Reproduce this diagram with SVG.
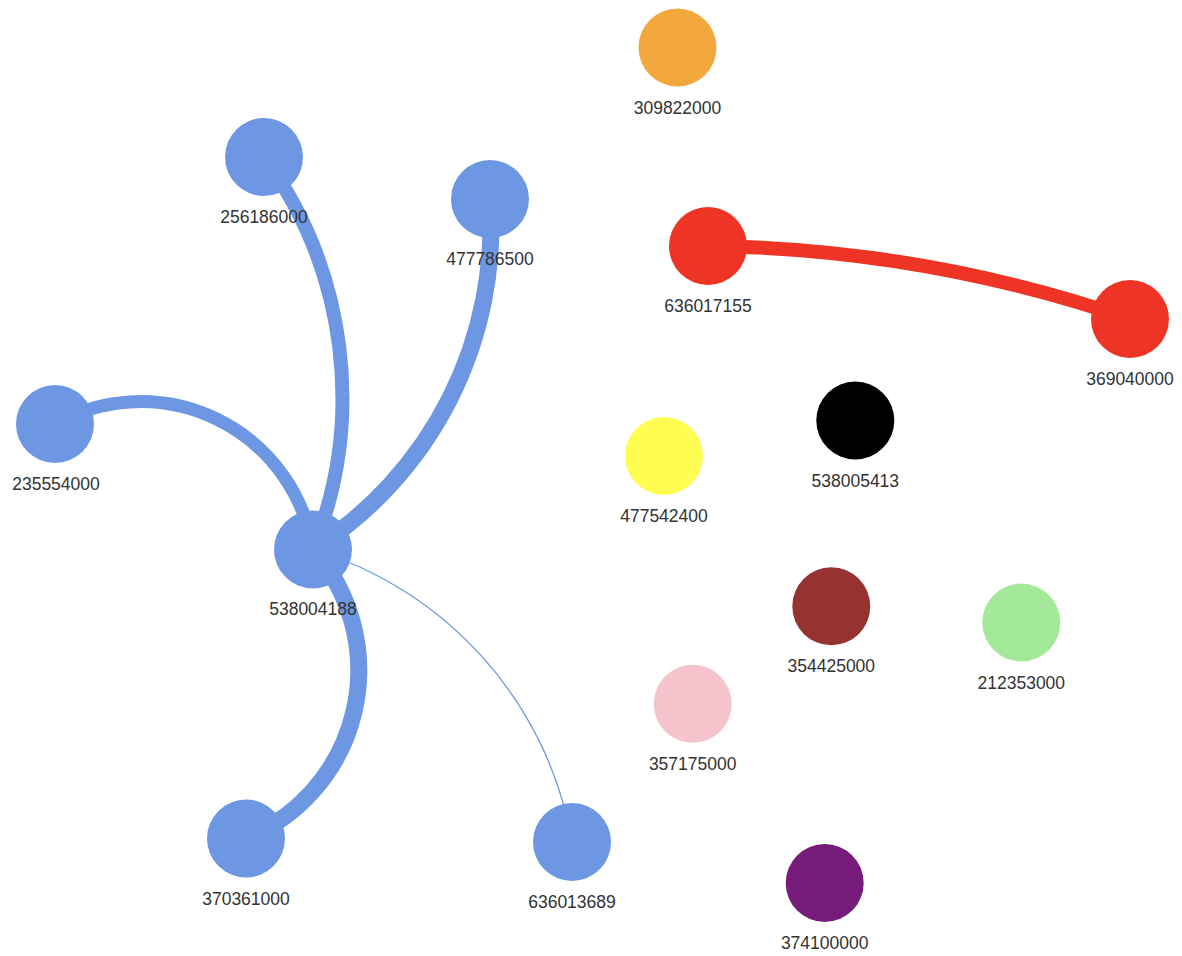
<svg xmlns="http://www.w3.org/2000/svg" width="1182" height="956" viewBox="0 0 1182 956">
<style>
.bg{fill:#ffffff}
.edge{fill:none;stroke-linecap:butt}
.blue-e{stroke:#6d97e3}
.red-e{stroke:#ee3424}
.node circle{stroke:none}
.node text{font-family:"Liberation Sans",Arial,Helvetica,sans-serif;font-size:17.5px;fill:#333333;text-anchor:middle}
</style>
<rect class="bg" x="0" y="0" width="1182" height="956"/>
<g id="connectors">
<path id="e-256186000" class="edge blue-e" stroke-width="14" d="M264,157 A408,408 0 0,1 313,549.5"/>
<path id="e-477786500" class="edge blue-e" stroke-width="17" d="M490,199 A383,383 0 0,1 313,549.5"/>
<path id="e-235554000" class="edge blue-e" stroke-width="13" d="M55,424 A174.5,174.5 0 0,1 313,549.5"/>
<path id="e-370361000" class="edge blue-e" stroke-width="17" d="M313,549.5 A182,182 0 0,1 246,838.5"/>
<path id="e-636013689" class="edge blue-e" stroke-width="1.3" d="M313,549.5 A371,371 0 0,1 572,842"/>
<path id="e-369040000" class="edge red-e" stroke-width="14" d="M708,246 A1352,1352 0 0,1 1130,319"/>
</g>
<g id="n-309822000" class="node"><circle cx="677.5" cy="47.5" r="39" fill="#f2a83c"/><text x="677.5" y="113.5">309822000</text></g>
<g id="n-256186000" class="node"><circle cx="264" cy="157" r="39" fill="#6d97e3"/><text x="264" y="223">256186000</text></g>
<g id="n-477786500" class="node"><circle cx="490" cy="199" r="39" fill="#6d97e3"/><text x="490" y="265">477786500</text></g>
<g id="n-636017155" class="node"><circle cx="708" cy="246" r="39" fill="#ee3424"/><text x="708" y="312">636017155</text></g>
<g id="n-369040000" class="node"><circle cx="1130" cy="319" r="39" fill="#ee3424"/><text x="1130" y="385">369040000</text></g>
<g id="n-235554000" class="node"><circle cx="55" cy="424" r="39" fill="#6d97e3"/><text x="56" y="490">235554000</text></g>
<g id="n-538005413" class="node"><circle cx="855.3" cy="420.5" r="39" fill="#000000"/><text x="855.3" y="486.5">538005413</text></g>
<g id="n-477542400" class="node"><circle cx="664" cy="456" r="39" fill="#fffc52"/><text x="664" y="522">477542400</text></g>
<g id="n-538004188" class="node"><circle cx="313" cy="549.5" r="39" fill="#6d97e3"/><text x="313" y="615">538004188</text></g>
<g id="n-354425000" class="node"><circle cx="831.3" cy="606.3" r="39" fill="#963330"/><text x="831.3" y="672.3">354425000</text></g>
<g id="n-212353000" class="node"><circle cx="1021.3" cy="622.5" r="39" fill="#a4e999"/><text x="1021.3" y="688.5">212353000</text></g>
<g id="n-357175000" class="node"><circle cx="692.7" cy="703.8" r="39" fill="#f5c3cc"/><text x="692.7" y="769.8">357175000</text></g>
<g id="n-370361000" class="node"><circle cx="246" cy="838.5" r="39" fill="#6d97e3"/><text x="246" y="904.5">370361000</text></g>
<g id="n-636013689" class="node"><circle cx="572" cy="842" r="39" fill="#6d97e3"/><text x="572" y="908">636013689</text></g>
<g id="n-374100000" class="node"><circle cx="824.7" cy="883" r="39" fill="#761b7a"/><text x="824.7" y="949">374100000</text></g>
</svg>
